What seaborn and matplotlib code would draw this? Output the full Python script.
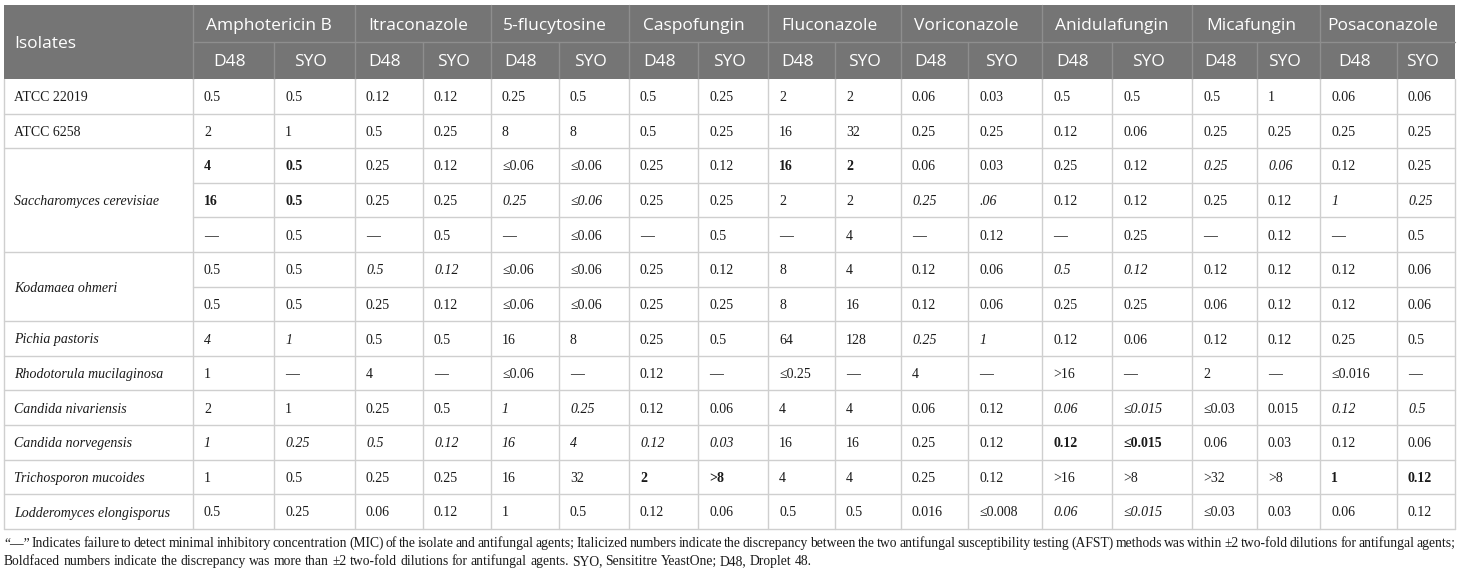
import matplotlib
matplotlib.use("Agg")
import matplotlib.pyplot as plt
import seaborn as sns

sns.set_style("white")

drugs = ["Amphotericin B", "Itraconazole", "5-flucytosine", "Caspofungin", "Fluconazole",
         "Voriconazole", "Anidulafungin", "Micafungin", "Posaconazole"]
methods = ["D48", "SYO"]

isolates = ["ATCC 22019", "ATCC 6258", "Saccharomyces cerevisiae", "Kodamaea ohmeri",
            "Pichia pastoris", "Rhodotorula mucilaginosa", "Candida nivariensis",
            "Candida norvegensis", "Trichosporon mucoides", "Lodderomyces elongisporus"]
isolate_rows = [1, 1, 3, 2, 1, 1, 1, 1, 1, 1]
isolate_italic = [False, False, True, True, True, True, True, True, True, True]

# MIC values, one line per table row: D48/SYO pairs in drug order
mic = [
    "0.5 0.5 0.12 0.12 0.25 0.5 0.5 0.25 2 2 0.06 0.03 0.5 0.5 0.5 1 0.06 0.06",
    "2 1 0.5 0.25 8 8 0.5 0.25 16 32 0.25 0.25 0.12 0.06 0.25 0.25 0.25 0.25",
    "4 0.5 0.25 0.12 ≤0.06 ≤0.06 0.25 0.12 16 2 0.06 0.03 0.25 0.12 0.25 0.06 0.12 0.25",
    "16 0.5 0.25 0.25 0.25 ≤0.06 0.25 0.25 2 2 0.25 .06 0.12 0.12 0.25 0.12 1 0.25",
    "— 0.5 — 0.5 — ≤0.06 — 0.5 — 4 — 0.12 — 0.25 — 0.12 — 0.5",
    "0.5 0.5 0.5 0.12 ≤0.06 ≤0.06 0.25 0.12 8 4 0.12 0.06 0.5 0.12 0.12 0.12 0.12 0.06",
    "0.5 0.5 0.25 0.12 ≤0.06 ≤0.06 0.25 0.25 8 16 0.12 0.06 0.25 0.25 0.06 0.12 0.12 0.06",
    "4 1 0.5 0.5 16 8 0.25 0.5 64 128 0.25 1 0.12 0.06 0.12 0.12 0.25 0.5",
    "1 — 4 — ≤0.06 — 0.12 — ≤0.25 — 4 — >16 — 2 — ≤0.016 —",
    "2 1 0.25 0.5 1 0.25 0.12 0.06 4 4 0.06 0.12 0.06 ≤0.015 ≤0.03 0.015 0.12 0.5",
    "1 0.25 0.5 0.12 16 4 0.12 0.03 16 16 0.25 0.12 0.12 ≤0.015 0.06 0.03 0.12 0.06",
    "1 0.5 0.25 0.25 16 32 2 >8 4 4 0.25 0.12 >16 >8 >32 >8 1 0.12",
    "0.5 0.25 0.06 0.12 1 0.5 0.12 0.06 0.5 0.5 0.016 ≤0.008 0.06 ≤0.015 ≤0.03 0.03 0.06 0.12",
]
# n = normal, i = italic (within 2 dilutions), b = bold (more than 2 dilutions)
marks = [
    "nnnnnnnnnnnnnnnnnn",
    "nnnnnnnnnnnnnnnnnn",
    "bbnnnnnnbbnnnniinn",
    "bbnniinnnniinnnnii",
    "nnnnnnnnnnnnnnnnnn",
    "nniinnnnnnnniinnnn",
    "nnnnnnnnnnnnnnnnnn",
    "iinnnnnnnniinnnnnn",
    "nnnnnnnnnnnnnnnnnn",
    "nnnniinnnnnniinnii",
    "iiiiiiiinnnnbbnnnn",
    "nnnnnnbbnnnnnnnnbb",
    "nnnnnnnnnnnniinnnn",
]

footnote = [
    "“—” Indicates failure to detect minimal inhibitory concentration (MIC) of the isolate and "
    "antifungal agents; Italicized numbers indicate the discrepancy between the two antifungal "
    "susceptibility testing (AFST) methods was within ±2 two-fold dilutions for antifungal agents;",
    "Boldfaced numbers indicate the discrepancy was more than ±2 two-fold dilutions for antifungal "
    "agents. SYO, Sensititre YeastOne; D48, Droplet 48.",
]

# layout (pixels)
col_edges = [4, 193, 274, 355, 423, 491, 559, 629, 698, 768, 835, 901,
             968, 1042, 1112, 1192, 1257, 1320, 1397, 1455]
top, h1, h2 = 5, 42, 79
row_h = 34.6
header_bg = "#757575"
header_line = "#8e8e8e"
grid = "#cfcfcf"
serif = ["Liberation Serif", "DejaVu Serif"]
sans = ["Open Sans", "DejaVu Sans"]

fig = plt.figure(figsize=(14.6, 5.74), dpi=100)
ax = fig.add_axes([0, 0, 1, 1])
ax.set_xlim(0, 1460)
ax.set_ylim(574, 0)
ax.axis("off")

n_rows = len(mic)
bottom = h2 + row_h * n_rows
left, right = col_edges[0], col_edges[-1]

# header block
ax.add_patch(plt.Rectangle((left, top), right - left, h2 - top, color=header_bg, lw=0))
ax.plot([col_edges[1], right], [h1, h1], color=header_line, lw=1)
for k, x in enumerate(col_edges[1:-1], start=1):
    y0 = top if k % 2 == 1 else h1
    ax.plot([x, x], [y0, h2], color=header_line, lw=1)

ax.text(left + 10, (top + h2) / 2 + 2, "Isolates", color="white", fontsize=12.5,
        family=sans, va="center", ha="left")
for d, name in enumerate(drugs):
    x0, x1 = col_edges[1 + 2 * d], col_edges[3 + 2 * d]
    ax.text((x0 + x1) / 2 - 5, (top + h1) / 2 + 2, name, color="white", fontsize=12.5,
            family=sans, va="center", ha="center")
    for m, meth in enumerate(methods):
        c0, c1 = col_edges[1 + 2 * d + m], col_edges[2 + 2 * d + m]
        ax.text((c0 + c1) / 2 - 4, (h1 + h2) / 2 + 2, meth, color="white", fontsize=12.5,
                family=sans, va="center", ha="center")

# body grid
for x in col_edges:
    ax.plot([x, x], [h2, bottom], color=grid, lw=1)
starts = [0]
for n in isolate_rows:
    starts.append(starts[-1] + n)
for r in range(1, n_rows + 1):
    y = h2 + row_h * r
    x0 = left if r in starts else col_edges[1]
    ax.plot([x0, right], [y, y], color=grid, lw=1)

# isolate names
for name, s, n, it in zip(isolates, starts, isolate_rows, isolate_italic):
    yc = h2 + row_h * (s + n / 2)
    ax.text(left + 10, yc, name, fontsize=10, family=serif, va="center_baseline",
            style="italic" if it else "normal", color="#1a1a1a")

# values
for r, (line, flags) in enumerate(zip(mic, marks)):
    yc = h2 + row_h * (r + 0.5)
    for c, (val, f) in enumerate(zip(line.split(), flags)):
        ax.text(col_edges[1 + c] + 11, yc, val, fontsize=10, family=serif,
                va="center_baseline", color="#1a1a1a",
                style="italic" if f == "i" else "normal",
                weight="bold" if f == "b" else "normal")

# justified footnote
renderer = fig.canvas.get_renderer()


def justify(text, y, x0, x1):
    words = text.split(" ")
    arts = [ax.text(0, y, w, fontsize=9.8, family=serif, va="center_baseline",
                    color="#1a1a1a") for w in words]
    widths = [a.get_window_extent(renderer).width for a in arts]
    gap = (x1 - x0 - sum(widths)) / (len(words) - 1)
    x = x0
    for a, w in zip(arts, widths):
        a.set_x(x)
        x += w + gap


justify(footnote[0], 542, left, right)
justify(footnote[1], 560, left, 812)

fig.savefig("out.png", dpi=100)
